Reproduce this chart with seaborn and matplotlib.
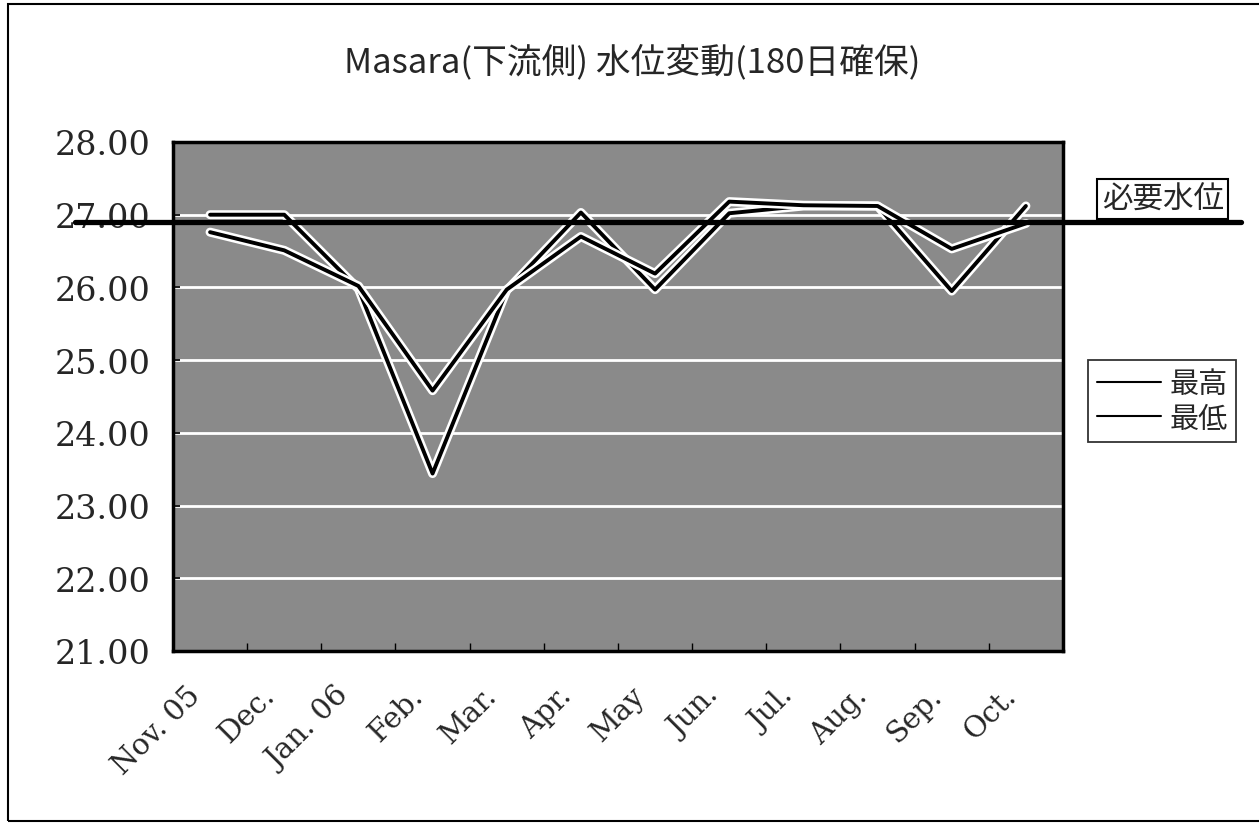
import numpy as np
import pandas as pd
import seaborn as sns
import matplotlib.pyplot as plt
from matplotlib import patheffects as pe
from matplotlib import transforms
from matplotlib.lines import Line2D
from matplotlib.patches import Rectangle

months = ['Nov. 05', 'Dec.', 'Jan. 06', 'Feb.', 'Mar.', 'Apr.', 'May',
          'Jun.', 'Jul.', 'Aug.', 'Sep.', 'Oct.']
high = [27.00, 27.00, 25.98, 23.44, 25.96, 27.03, 25.97, 27.02, 27.12, 27.12, 25.95, 27.12]
low = [26.76, 26.51, 26.02, 24.58, 25.97, 26.70, 26.19, 27.18, 27.13, 27.12, 26.53, 26.88]
required = 26.9
yticks = [21, 22, 23, 24, 25, 26, 27, 28]

df = pd.DataFrame({'month': months * 2,
                   'level': high + low,
                   'series': ['最高'] * 12 + ['最低'] * 12})

sns.set_theme(style='white')
plt.rcParams['font.family'] = ['Noto Sans CJK JP', 'DejaVu Sans']

fig = plt.figure(figsize=(12.59, 8.28), dpi=100)
ax = fig.add_axes([0.1374, 0.2126, 0.7069, 0.6147])
ax.set_facecolor('#8a8a8a')

halo = [pe.Stroke(linewidth=6.5, foreground='white'), pe.Normal()]
sns.lineplot(data=df, x='month', y='level', hue='series', sort=False,
             palette=['black', 'black'], linewidth=2.8, legend=False, ax=ax)
for ln in ax.lines:
    ln.set_path_effects(halo)

ax.set_ylim(21, 28)
ax.set_xlim(-0.5, len(months) - 0.5)
ax.set_yticks(yticks)
ax.set_yticklabels([f'{v:.2f}' for v in yticks], fontsize=24, family='DejaVu Serif')
ax.set_xticks(range(len(months)))
ax.set_xticklabels([])
# month labels, rotated and nudged left/down like the original
shift = transforms.ScaledTranslation(-0.14, -0.40, fig.dpi_scale_trans)
for i, m in enumerate(months):
    ax.text(i, 0, m, transform=ax.get_xaxis_transform() + shift, rotation=45,
            ha='right', va='center', rotation_mode='anchor', fontsize=21, family='DejaVu Serif')
ax.set_xticks(np.arange(-0.5, len(months)), minor=True)
ax.tick_params(axis='x', which='major', length=0)
ax.tick_params(axis='x', which='minor', direction='in', length=6, color='black', bottom=True)
ax.tick_params(axis='y', which='major', direction='in', length=5, color='black', left=True, pad=16)
ax.grid(axis='y', color='white', linewidth=2)
ax.set_xlabel('')
ax.set_ylabel('')
for s in ax.spines.values():
    s.set_color('black')
    s.set_linewidth(2.5)

# required water level line
ax.axhline(required, xmin=-0.11, xmax=1.2, clip_on=False, color='black', linewidth=3.8, zorder=5)
ax.text(1.112, 27.22, '必要水位', transform=ax.get_yaxis_transform(), ha='center', va='center',
        fontsize=22, bbox=dict(boxstyle='square,pad=0.15', fc='white', ec='black', lw=1.5))

handles = [Line2D([], [], color='black', linewidth=1.5), Line2D([], [], color='black', linewidth=1.5)]
leg = fig.legend(handles, ['最高', '最低'], loc='center left', bbox_to_anchor=(0.864, 0.514),
                 fontsize=21, frameon=True, fancybox=False, edgecolor='black', borderaxespad=0,
                 handlelength=2.2, handletextpad=0.3, borderpad=0.3, labelspacing=0.15)
leg.get_frame().set_linewidth(1.3)

fig.text(0.502, 0.925, 'Masara(下流側) 水位変動(180日確保)', ha='center', va='center', fontsize=25)

fig.patches.append(Rectangle((0.0064, 0.0072), 1.1, 0.9867, transform=fig.transFigure,
                             fill=False, edgecolor='black', linewidth=1.5))

fig.savefig('out.png', dpi=100, facecolor='white')
